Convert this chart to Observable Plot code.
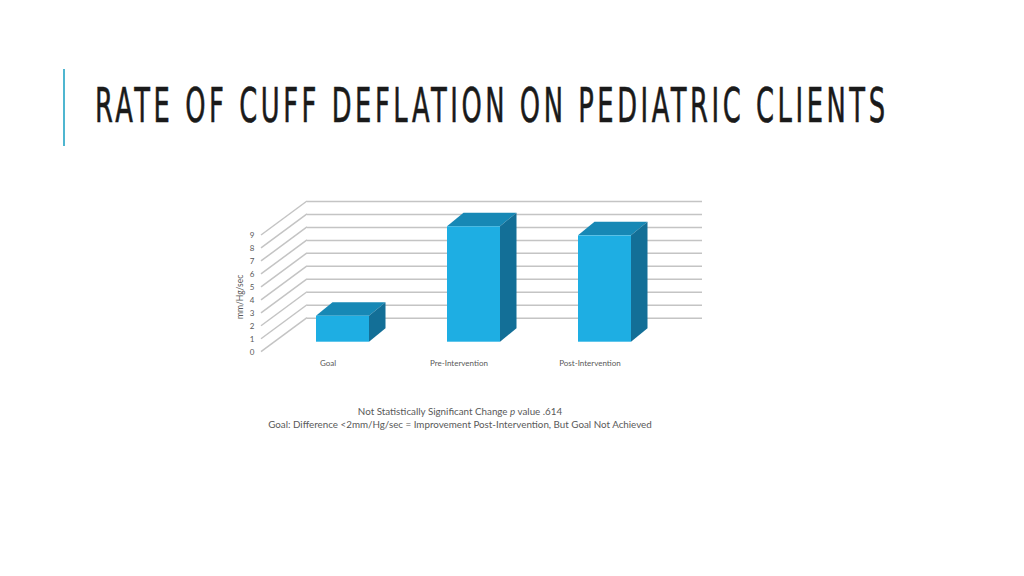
<!DOCTYPE html>
<html><head><meta charset="utf-8">
<script src="https://cdn.jsdelivr.net/npm/d3@7"></script>
<script src="https://cdn.jsdelivr.net/npm/@observablehq/plot@0.6"></script>
<style>
html,body{margin:0;padding:0;background:#fff;width:1024px;height:576px;overflow:hidden;position:relative;font-family:Lato,"Open Sans",sans-serif;}
#accent{position:absolute;left:63px;top:69px;width:2px;height:77px;background:#4fb6d0;}
#title{position:absolute;left:95px;top:81px;font-family:"DejaVu Sans Condensed","DejaVu Sans",sans-serif;font-stretch:condensed;font-size:48px;line-height:48px;color:#1a1a1a;white-space:nowrap;display:inline-block;transform-origin:0 0;letter-spacing:6px;-webkit-text-stroke:0.6px #1a1a1a;}
#chart{position:absolute;left:0;top:180px;}
#caption{position:absolute;left:110px;top:405px;width:700px;text-align:center;font-family:Lato,sans-serif;font-size:9.8px;line-height:13px;color:#595959;}
</style></head>
<body>
<div id="accent"></div>
<div id="title">RATE OF CUFF DEFLATION ON PEDIATRIC CLIENTS</div>
<div id="chart"></div>
<div id="caption">Not Statistically Significant Change <i>p</i> value .614<br>Goal: Difference &lt;2mm/Hg/sec = Improvement Post-Intervention, But Goal Not Achieved</div>
<script>
const categories = ["Goal", "Pre-Intervention", "Post-Intervention"];
const values = [2.0, 8.9, 8.2];
const yTicks = [0, 1, 2, 3, 4, 5, 6, 7, 8, 9];
const yLabel = "mm/Hg/sec";

const data = categories.map((c, i) => ({category: c, value: values[i]}));

const gridColor = "#c4c4c4";
const frontColor = "#1eaee3";
const topColor = "#1788b5";
const sideColor = "#136f97";
const depthX = 46, depthY = -34;
const barDX = 15, barDY = -10;
const capDX = 16.5, capDY = -13.5;
const inset = 39;

const diagonals = (index, scales, vals, dims) => {
  const g = d3.create("svg:g").attr("stroke", gridColor).attr("stroke-width", 1.5).attr("fill", "none");
  for (const t of yTicks) {
    const y0 = scales.y(t);
    g.append("line")
      .attr("x1", dims.marginLeft).attr("y1", y0)
      .attr("x2", dims.marginLeft + depthX).attr("y2", y0 + depthY);
  }
  return g.node();
};

const faces = (index, scales, vals, dims) => {
  const g = d3.create("svg:g");
  const bw = scales.x.bandwidth();
  for (const d of data) {
    const x0 = scales.x(d.category) + inset + barDX;
    const x1 = scales.x(d.category) + bw - inset + barDX;
    const yt = scales.y(d.value) + barDY;
    const yb = scales.y(0) + barDY;
    g.append("path")
      .attr("d", `M${x0},${yt}L${x0 + capDX},${yt + capDY}L${x1 + capDX},${yt + capDY}L${x1},${yt}Z`)
      .attr("fill", topColor);
    g.append("path")
      .attr("d", `M${x1},${yt}L${x1 + capDX},${yt + capDY}L${x1 + capDX},${yb + capDY}L${x1},${yb}Z`)
      .attr("fill", sideColor);
  }
  return g.node();
};

const chart = Plot.plot({
  width: 1024,
  height: 200,
  marginLeft: 261,
  marginRight: 368,
  marginTop: 55,
  marginBottom: 28.3,
  x: {type: "band", domain: categories, padding: 0},
  y: {domain: [0, 9]},
  style: {background: "transparent", color: "#595959", fontFamily: "Lato, sans-serif"},
  marks: [
    Plot.ruleY(yTicks, {y: d => d, dx: depthX, dy: depthY, stroke: gridColor, strokeWidth: 1.5}),
    diagonals,
    faces,
    Plot.barY(data, {x: "category", y: "value", fill: frontColor, dx: barDX, dy: barDY, insetLeft: inset, insetRight: inset}),
    Plot.axisY({ticks: yTicks, tickSize: 0, tickPadding: 7, label: null, fontSize: 8}),
    Plot.axisX({tickSize: 0, tickPadding: 8, label: null, fontSize: 8}),
    Plot.text([yLabel], {text: d => d, frameAnchor: "left", textAnchor: "middle", rotate: -90, dx: -21, dy: 3, fontSize: 8.5})
  ]
});
document.getElementById("chart").appendChild(chart);

function fitTitle() {
  const t = document.getElementById("title");
  t.style.transform = "none";
  const w0 = t.getBoundingClientRect().width - 6;
  t.style.transform = `scaleX(${790 / w0})`;
}
fitTitle();
if (document.fonts && document.fonts.ready) document.fonts.ready.then(fitTitle);
</script>
</body></html>
